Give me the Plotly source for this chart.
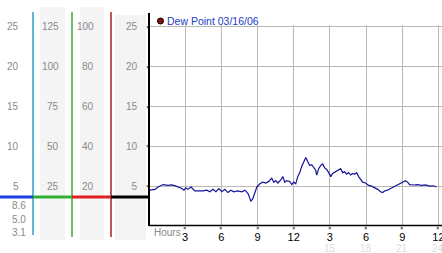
import plotly.graph_objects as go

# ---- data ----
hours = [0.08, 0.5, 0.75, 1.16, 1.57, 1.9, 2.24, 2.48, 2.73, 2.9, 3.06, 3.23, 3.48, 3.8, 4.14,
         4.47, 4.8, 5.05, 5.3, 5.55, 5.8, 6.04, 6.29, 6.54, 6.79, 7.04, 7.37, 7.7, 7.95, 8.2,
         8.36, 8.44, 8.6, 8.77, 8.94, 9.19, 9.44, 9.69, 9.93, 10.18, 10.35, 10.51, 10.68, 10.93,
         11.1, 11.26, 11.42, 11.67, 11.84, 12.0, 12.17, 12.33, 12.5, 12.67, 12.83, 13.0, 13.16,
         13.33, 13.49, 13.66, 13.82, 13.91, 14.07, 14.24, 14.4, 14.57, 14.74, 14.9, 15.07, 15.23,
         15.48, 15.73, 15.89, 16.06, 16.23, 16.39, 16.56, 16.72, 16.89, 17.05, 17.22, 17.38,
         17.55, 17.72, 17.96, 18.21, 18.46, 18.71, 18.96, 19.2, 19.37, 19.54, 19.78, 20.03,
         20.28, 20.53, 20.78, 21.03, 21.27, 21.44, 21.61, 21.94, 22.27, 22.6, 22.93, 23.26,
         23.59, 23.84]
dew_point = [4.5, 4.6, 4.9, 5.2, 5.1, 5.15, 5.0, 4.9, 4.7, 4.5, 4.8, 4.6, 4.9, 4.4, 4.4,
             4.4, 4.5, 4.3, 4.6, 4.3, 4.7, 4.3, 4.6, 4.2, 4.5, 4.3, 4.4, 4.3, 4.5, 4.1,
             3.5, 3.1, 3.4, 4.2, 4.9, 5.3, 5.5, 5.4, 5.6, 6.0, 5.5, 5.7, 5.4, 5.8,
             6.2, 5.5, 5.7, 5.6, 5.2, 5.5, 5.3, 6.2, 6.7, 7.5, 8.0, 8.6, 8.1,
             7.6, 7.7, 7.4, 7.0, 6.4, 7.2, 7.6, 7.8, 7.3, 7.1, 6.7, 6.2, 6.6,
             6.8, 7.0, 7.2, 6.7, 6.8, 6.5, 6.7, 6.4, 6.6, 6.5, 6.7, 6.2,
             5.8, 5.5, 5.4, 5.1, 5.0, 4.8, 4.6, 4.3, 4.2, 4.4, 4.5, 4.7,
             4.9, 5.1, 5.4, 5.6, 5.7, 5.5, 5.2, 5.15, 5.2, 5.1, 5.15, 5.0,
             5.05, 4.9]

y_ticks = [25, 20, 15, 10, 5]
scale1_labels = ["25", "20", "15", "10", "5"]
scale2_labels = ["125", "100", "75", "50", "25"]
scale3_labels = ["100", "80", "60", "40", "20"]
scale1_extra = ["8.6", "5.0", "3.1"]
x_tickvals = [3, 6, 9, 12, 15, 18, 21, 24]
x_ticktext = ["3", "6", "9", "12", "3", "6", "9", "12"]
x_faint = [15, 18, 21, 24]
series_name = "Dew Point 03/16/06"

# ---- layout helpers (pixel -> paper) ----
W, H = 442, 253
def px(x): return x / W
def py(y): return 1 - y / H

PL, PR, PT, PB = 149, 442, 25, 226
xpx_per_h = 12.06
ypx_per_u = 7.965
x_max = (PR - PL) / xpx_per_h
y_max = (PB - PT) / ypx_per_u

fig = go.Figure()
fig.add_trace(go.Scatter(x=hours, y=dew_point, mode="lines",
                         line=dict(color="#14149a", width=1.2),
                         showlegend=False, hoverinfo="skip"))

shapes = []
def rect(x0, x1, y0, y1, color):
    shapes.append(dict(type="rect", xref="paper", yref="paper",
                       x0=px(x0), x1=px(x1), y0=py(y1), y1=py(y0),
                       fillcolor=color, line=dict(width=0), layer="below"))
def line(x0, y0, x1, y1, color, w):
    shapes.append(dict(type="line", xref="paper", yref="paper",
                       x0=px(x0), x1=px(x1), y0=py(y0), y1=py(y1),
                       line=dict(color=color, width=w), layer="above"))

bg = "#f4f4f4"
rect(40, 65, 7, 240, bg)
rect(80, 104, 7, 240, bg)
rect(115, 146, 15, 240, bg)

line(33, 12, 33, 235, "#2f9fc6", 1.5)
line(72, 12, 72, 237, "#3aaa3a", 1.5)
line(111, 12, 111, 237, "#a82020", 1.5)
line(0, 197, 33, 197, "#1e3ee0", 3)
line(33, 197, 72, 197, "#30b030", 3)
line(72, 197, 111, 197, "#e02020", 3)
line(111, 197, 149, 197, "#000000", 3)
line(149, 13, 149, 226, "#000000", 2)
line(149, 225.5, 442, 225.5, "#000000", 1.5)

shapes.append(dict(type="circle", xref="paper", yref="paper",
                   x0=px(157.5), x1=px(163.5), y0=py(24), y1=py(18),
                   fillcolor="#8b1010", line=dict(color="#000000", width=1)))

gray = "#8a8a8a"
font = "Liberation Sans, Arial, sans-serif"
ann = []
def text(t, x, y, anchor="right", color=gray, size=10, yref="paper"):
    ann.append(dict(text=t, x=px(x), y=(y if yref == "y" else py(y)), xref="paper", yref=yref,
                    xanchor=anchor, yanchor="middle", showarrow=False,
                    font=dict(family=font, size=size, color=color)))

for v, a, b, c in zip(y_ticks, scale1_labels, scale2_labels, scale3_labels):
    text(a, 21, v, yref="y")
    text(b, 61, v, yref="y")
    text(c, 96, v, yref="y")
    text("×", 147.5, v, anchor="center", color="#000000", size=6, yref="y")

for t, yy in zip(scale1_extra, [205, 219, 232]):
    text(t, 28, yy)

text("Hours", 152, 232, anchor="left")
text(series_name, 165, 21, anchor="left", color="#1d3cc4", size=10.5)

for v in x_tickvals:
    text("×", PL + v * xpx_per_h, 227.5, anchor="center", color="#000000", size=6)
for v in x_faint:
    text(str(v), PL + v * xpx_per_h, 248, anchor="center", color="#dcdcdc")

fig.update_layout(
    width=W, height=H, margin=dict(l=0, r=0, t=0, b=0),
    paper_bgcolor="white", plot_bgcolor="white",
    shapes=shapes, annotations=ann, showlegend=False,
    xaxis=dict(domain=[px(PL), 1], range=[0, x_max], tickvals=x_tickvals, ticktext=x_ticktext,
               showgrid=True, gridcolor="#b8b8b8", gridwidth=1, zeroline=False,
               ticks="outside", ticklen=1, tickcolor="rgba(0,0,0,0)", automargin=False,
               ticklabeloverflow="allow",
               tickfont=dict(family=font, size=11, color="#000000")),
    yaxis=dict(domain=[py(PB), py(PT)], range=[0, y_max], tickvals=y_ticks,
               showgrid=True, gridcolor="#b8b8b8", gridwidth=1, zeroline=False,
               ticks="outside", ticklen=9, tickcolor="rgba(0,0,0,0)", automargin=False,
               tickfont=dict(family=font, size=10, color=gray)),
)

fig.write_html("out.html")
